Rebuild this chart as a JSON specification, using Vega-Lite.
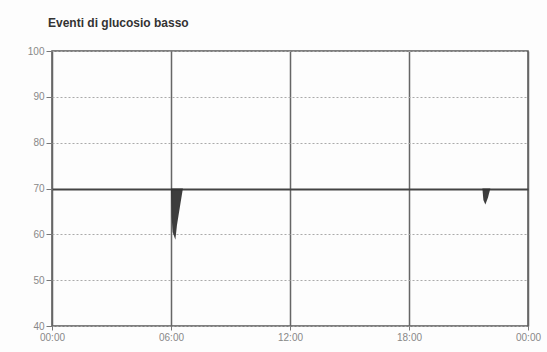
{
  "$schema": "https://vega.github.io/schema/vega-lite/v6.json",
  "width": 476,
  "height": 275,
  "autosize": "none",
  "padding": {"left": 52, "top": 51, "right": 19, "bottom": 26},
  "background": "#fdfdfd",
  "title": {
    "text": "Eventi di glucosio basso",
    "anchor": "start",
    "frame": "group",
    "offset": 16,
    "dx": -4,
    "font": "Liberation Sans",
    "fontSize": 12,
    "fontWeight": "bold",
    "color": "#333"
  },
  "config": {
    "view": {"stroke": "#555", "strokeWidth": 1.5},
    "axis": {"labelFont": "Liberation Sans", "labelFontSize": 10, "labelColor": "#888", "domain": false, "tickColor": "#777", "tickSize": 6}
  },
  "data": {
    "values": [
      {"event": 1, "hour": 6.0, "glucose": 70},
      {"event": 1, "hour": 6.03, "glucose": 64},
      {"event": 1, "hour": 6.08, "glucose": 60.5},
      {"event": 1, "hour": 6.22, "glucose": 58.8},
      {"event": 1, "hour": 6.3, "glucose": 62},
      {"event": 1, "hour": 6.45, "glucose": 66},
      {"event": 1, "hour": 6.6, "glucose": 70},
      {"event": 2, "hour": 21.7, "glucose": 70},
      {"event": 2, "hour": 21.75, "glucose": 67.5},
      {"event": 2, "hour": 21.85, "glucose": 66.5},
      {"event": 2, "hour": 21.98, "glucose": 68},
      {"event": 2, "hour": 22.1, "glucose": 70}
    ]
  },
  "mark": {"type": "area", "color": "#333", "opacity": 0.95},
  "encoding": {
    "x": {
      "field": "hour",
      "type": "quantitative",
      "scale": {"domain": [0, 24], "nice": false},
      "axis": {
        "title": null,
        "values": [0, 6, 12, 18, 24],
        "labelExpr": "datum.value == 24 ? '00:00' : (datum.value < 10 ? '0' : '') + datum.value + ':00'",
        "labelFlush": false,
        "labelPadding": 2,
        "tickSize": 4,
        "grid": true,
        "gridColor": "#666",
        "gridWidth": 1.5
      }
    },
    "y": {
      "field": "glucose",
      "type": "quantitative",
      "scale": {"domain": [40, 100], "nice": false},
      "axis": {
        "title": null,
        "values": [40, 50, 60, 70, 80, 90, 100],
        "labelPadding": 2,
        "grid": true,
        "gridColor": {"condition": {"test": "datum.value == 70", "value": "#444"}, "value": "#aaa"},
        "gridWidth": {"condition": {"test": "datum.value == 70", "value": 2}, "value": 1},
        "gridDash": {"condition": {"test": "datum.value == 70", "value": []}, "value": [2, 2]}
      }
    },
    "y2": {"datum": 70},
    "detail": {"field": "event"}
  }
}
